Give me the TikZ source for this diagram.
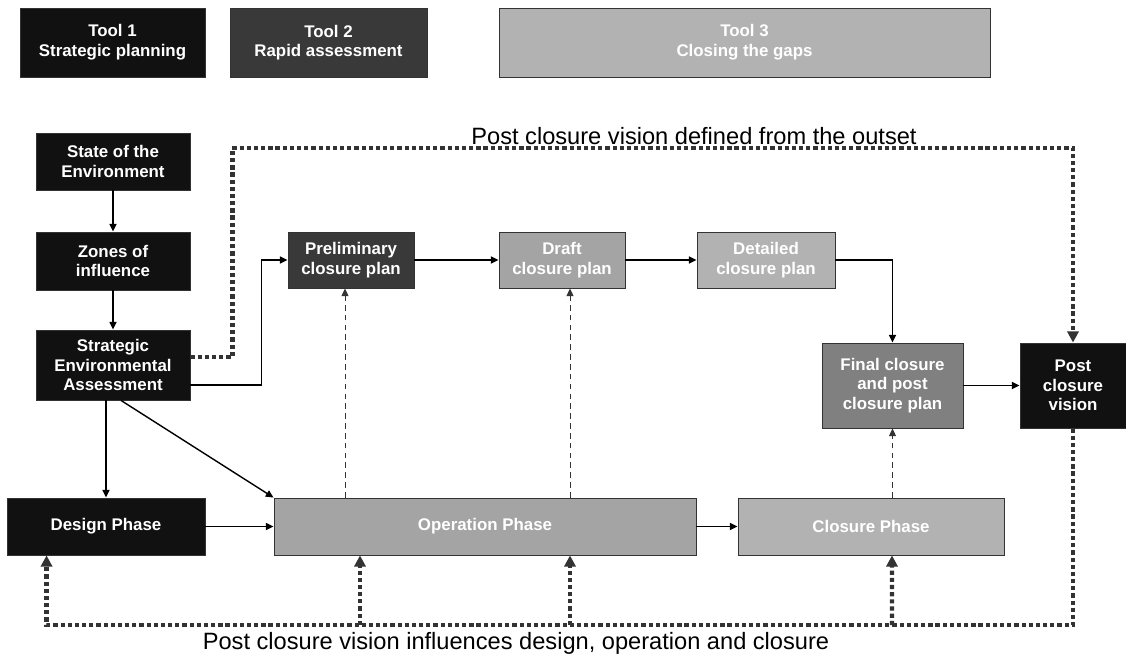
\documentclass[tikz,border=0pt]{standalone}
\usepackage{fontspec}
\setmainfont{Liberation Sans}
\usepackage{tikz}
\usetikzlibrary{positioning}
\usetikzlibrary{arrows.meta}

\definecolor{boxblack}{HTML}{111111}
\definecolor{boxdark}{HTML}{393939}
\definecolor{boxmid}{HTML}{808080}
\definecolor{boxgrey}{HTML}{A4A4A4}
\definecolor{boxlight}{HTML}{B2B2B2}
\definecolor{linegrey}{HTML}{333333}

\begin{document}
\begin{tikzpicture}[x=0.025cm,y=-0.025cm,
  box/.style={draw=linegrey,line width=0.6pt,inner sep=0pt,align=center,
    text=white,font=\bfseries\fontsize{12}{14}\selectfont},
  arr/.style={line width=1pt,-{Triangle[length=5.5pt,width=5pt]}},
  dasharr/.style={line width=0.7pt,draw=linegrey,dash pattern=on 4pt off 3pt,
    -{Triangle[length=5.5pt,width=5pt]}},
  dotline/.style={line width=3pt,draw=linegrey,dash pattern=on 3pt off 2.1pt},
  dotarr/.style={dotline,-{Triangle[length=8pt,width=8pt,fill=linegrey]}},
  caption/.style={font=\fontsize{16.8}{19}\selectfont}]
  \useasboundingbox (0,0) rectangle (1126,657);

  % legend
  \node[box,fill=boxblack,minimum width=4.625cm,minimum height=1.725cm] (tool1) at (112.5,42.5) {Tool 1\\Strategic planning};
  \node[box,fill=boxdark,minimum width=4.925cm,minimum height=1.725cm] (tool2) at (328.5,42.5) {Tool 2\\Rapid assessment};
  \node[box,fill=boxlight,minimum width=12.275cm,minimum height=1.725cm] (tool3) at (744.5,42.5) {Tool 3\\Closing the gaps};

  % strategic column
  \node[box,fill=boxblack,minimum width=3.85cm,minimum height=1.425cm] (state) at (113,161.5) {State of the\\Environment};
  \node[box,fill=boxblack,minimum width=3.85cm,minimum height=1.45cm] (zones) at (113,261) {Zones of\\influence};
  \node[box,fill=boxblack,minimum width=3.85cm,minimum height=1.75cm] (sea) at (113,365) {Strategic\\Environmental\\Assessment};

  % phases
  \node[box,fill=boxblack,minimum width=4.95cm,minimum height=1.425cm] (design) at (106,526.5) {Design Phase};
  \node[box,fill=boxgrey,minimum width=10.55cm,minimum height=1.425cm] (oper) at (485,526.5) {Operation Phase};
  \node[box,fill=boxlight,minimum width=6.65cm,minimum height=1.425cm] (closure) at (871,526.5) {Closure Phase};

  % closure plans
  \node[box,fill=boxdark,minimum width=3.15cm,minimum height=1.4cm] (prelim) at (351,260) {Preliminary\\closure plan};
  \node[box,fill=boxgrey,minimum width=3.15cm,minimum height=1.4cm] (draft) at (562,260) {Draft\\closure plan};
  \node[box,fill=boxlight,minimum width=3.45cm,minimum height=1.4cm] (detail) at (766,260) {Detailed\\closure plan};
  \node[box,fill=boxmid,minimum width=3.525cm,minimum height=2.125cm] (final) at (892.5,385.5) {Final closure\\and post\\closure plan};
  \node[box,fill=boxblack,minimum width=2.65cm,minimum height=2.125cm] (post) at (1073,385.5) {Post\\closure\\vision};

  % solid flow
  \draw[arr] (state) -- (zones);
  \draw[arr] (zones) -- (sea);
  \draw[arr] (sea.south -| design.north) -- (design.north);
  \draw[arr] ([xshift=0.2cm]sea.south) -- (oper.north west);
  \draw[arr] ([yshift=-0.5cm]sea.east) -- ++(71,0) |- (prelim.west);
  \draw[arr] (design) -- (oper);
  \draw[arr] (oper) -- (closure);
  \draw[arr] (prelim) -- (draft);
  \draw[arr] (draft) -- (detail);
  \draw[arr] (detail.east) -| (final.north);
  \draw[arr] (final) -- (post);

  % dashed feedback from phases
  \draw[dasharr] (oper.north -| 345,0) -- (prelim.south -| 345,0);
  \draw[dasharr] (oper.north -| 570,0) -- (draft.south -| 570,0);
  \draw[dasharr] (closure.north -| final.south) -- (final.south);

  % post closure vision lines
  \coordinate (topline) at (0,148);
  \coordinate (botline) at (0,625);
  \draw[dotarr] ([yshift=0.2cm]sea.east) -- ++(42,0) |- (post.north |- topline) -- (post.north);
  \draw[dotarr] (post.south) -- (post.south |- botline) -| ([xshift=1cm]design.south west);
  \draw[dotarr] (botline -| 360,0) -- (oper.south -| 360,0);
  \draw[dotarr] (botline -| 570,0) -- (oper.south -| 570,0);
  \draw[dotarr] (botline -| closure.south) ++(21,0) -- ([xshift=0.525cm]closure.south);

  \node[caption] (toptext) at (694,136) {Post closure vision defined from the outset};
  \node[caption] (bottext) at (516,643) {Post closure vision influences design, operation and closure};
\end{tikzpicture}
\end{document}
